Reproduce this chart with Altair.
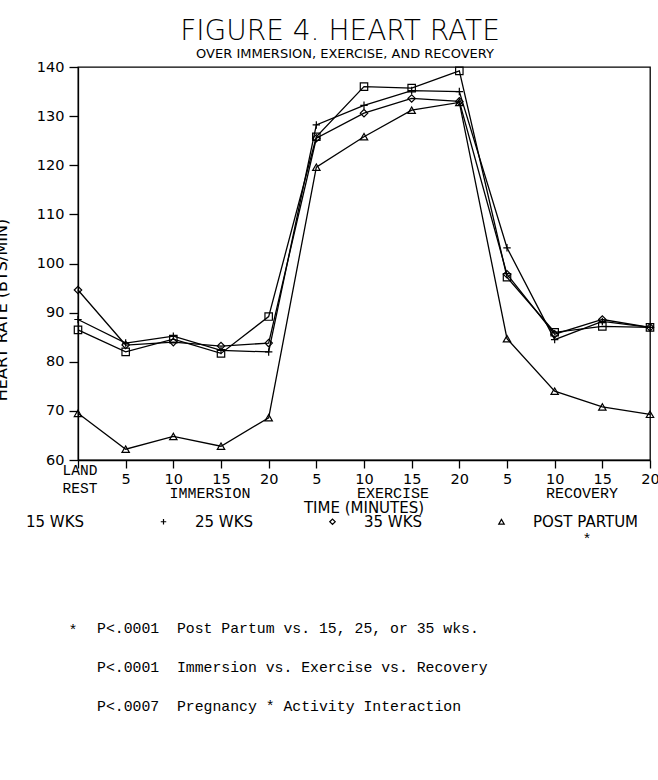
import altair as alt
import pandas as pd

# ---------------- data ----------------
x_index = list(range(13))
x_tick_labels = ["LAND REST", "5", "10", "15", "20", "5", "10", "15", "20", "5", "10", "15", "20"]
phase_labels = ["IMMERSION", "EXERCISE", "RECOVERY"]
series_names = ["15 WKS", "25 WKS", "35 WKS", "POST PARTUM"]

hr_15wks = [86.5, 82.0, 84.6, 81.7, 89.2, 125.8, 136.0, 135.7, 139.2, 97.2, 86.0, 87.2, 87.0]
hr_25wks = [88.6, 83.8, 85.2, 82.3, 82.0, 128.2, 132.2, 135.2, 135.0, 103.2, 84.5, 88.2, 87.0]
hr_35wks = [94.6, 83.4, 84.0, 83.2, 83.8, 125.5, 130.6, 133.6, 133.0, 97.8, 85.6, 88.6, 87.0]
hr_postpartum = [69.5, 62.2, 64.8, 62.8, 68.6, 119.6, 125.8, 131.2, 132.8, 84.7, 74.0, 70.8, 69.3]

y_ticks = [60, 70, 80, 90, 100, 110, 120, 130, 140]

title_text = "FIGURE 4. HEART RATE"
subtitle_text = "OVER IMMERSION, EXERCISE, AND RECOVERY"
y_title = "HEART RATE (BTS/MIN)"
x_title = "TIME (MINUTES)"
footnote_star = "*"
footnotes = [
    "P<.0001\u00a0\u00a0Post Partum vs. 15, 25, or 35 wks.",
    "P<.0001\u00a0\u00a0Immersion vs. Exercise vs. Recovery",
    "P<.0007\u00a0\u00a0Pregnancy * Activity Interaction",
]

rows = []
for name, vals in zip(series_names, [hr_15wks, hr_25wks, hr_35wks, hr_postpartum]):
    for i, v in zip(x_index, vals):
        rows.append({"series": name, "idx": i, "hr": v})
df = pd.DataFrame(rows)

# ---------------- style ----------------
SANS = "DejaVu Sans"
MONO = "Liberation Mono"
W, H = 572, 393

label_expr = "[" + ",".join("''" if i == 0 else f"'{t}'" for i, t in enumerate(x_tick_labels)) + "][datum.value]"

x_enc = alt.X(
    "idx:Q",
    scale=alt.Scale(domain=[0, 12], nice=False, zero=False),
    axis=alt.Axis(values=x_index, labelExpr=label_expr, title=None, grid=False,
                  tickSize=8, labelFont=SANS, labelFontSize=14.5, labelColor="black",
                  labelPadding=4, labelFlush=False, labelOverlap=False),
)
y_enc = alt.Y(
    "hr:Q",
    scale=alt.Scale(domain=[60, 140], nice=False, zero=False),
    axis=alt.Axis(values=y_ticks, title=None, grid=False, tickSize=9,
                  labelFont=SANS, labelFontSize=14.5, labelColor="black", labelPadding=5),
)

shape_scale = alt.Scale(domain=series_names,
                        range=["square", "M-1,0H1M0,-1V1", "diamond", "triangle-up"])

lines = alt.Chart(df).mark_line(color="black", strokeWidth=1.3).encode(
    x=x_enc, y=y_enc, detail="series:N", order="idx:Q"
)

points = alt.Chart(df).mark_point(filled=False, color="black", strokeWidth=1.2, size=55, opacity=1).encode(
    x=x_enc, y=y_enc,
    shape=alt.Shape("series:N", scale=shape_scale, sort=series_names,
                    legend=alt.Legend(title=None, orient="none", legendX=-91, legendY=447,
                                      direction="horizontal", columns=4, gridAlign="all",
                                      columnPadding=24, symbolSize=30, labelOffset=24,
                                      labelFont=SANS, labelFontSize=15, labelColor="black",
                                      symbolStrokeColor="black", symbolStrokeWidth=1.2,
                                      symbolFillColor="transparent", padding=0, labelLimit=300)),
)


def note(text, x, y, font=SANS, size=14.5, align="center", baseline="middle", angle=0, **kw):
    return alt.Chart(pd.DataFrame({"t": [text]})).mark_text(
        font=font, fontSize=size, align=align, baseline=baseline, angle=angle, color="black", **kw
    ).encode(x=alt.value(x), y=alt.value(y), text="t:N")


notes = [
    note(title_text, 262, -27, size=28, baseline="alphabetic", fontWeight=200),
    note(subtitle_text, 267, -9, size=13, baseline="alphabetic"),
    note(y_title, -76, 243, size=16, angle=270),
    note(x_tick_labels[0], 2, 397, font=MONO, size=14.5, baseline="top", lineBreak=" ", lineHeight=18),
    note(phase_labels[0], 132, 426, font=MONO, size=15),
    note(phase_labels[1], 315, 426, font=MONO, size=15),
    note(phase_labels[2], 504, 426, font=MONO, size=15),
    note(x_title, 286, 441, size=15),
    note(footnote_star, 509, 472, font=MONO, size=15),
    note(footnote_star, -5, 563, font=MONO, size=15),
]
for i, fn in enumerate(footnotes):
    notes.append(note(fn, 19, 562 + 39 * i, font=MONO, size=14.8, align="left"))

chart = alt.layer(lines, points, *notes).properties(
    width=W, height=H,
    autosize=alt.AutoSizeParams(type="none"),
    padding={"left": 78, "top": 67, "right": 8, "bottom": 320},
    background="white",
).configure_view(stroke="black", strokeWidth=1.3).configure_axis(
    domainColor="black", domainWidth=1.3, tickColor="black", tickWidth=1.3
)

chart.save("out.html", embed_options={"renderer": "svg", "actions": False})
